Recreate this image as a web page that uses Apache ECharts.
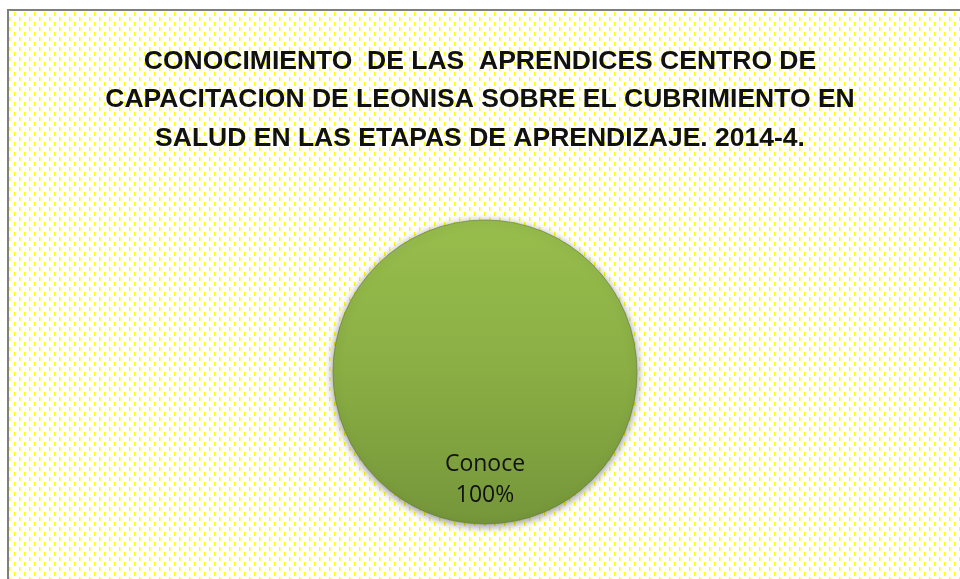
<!DOCTYPE html>
<html>
<head>
<meta charset="utf-8">
<script src="https://cdn.jsdelivr.net/npm/echarts@6/dist/echarts.min.js"></script>
<style>
  html, body { margin: 0; padding: 0; background: #fff; }
  #main { width: 960px; height: 579px; }
</style>
</head>
<body>
<div id="main"></div>
<script>
// datos del grafico
const categorias = ['Conoce'];
const valores = [100];
const titulo = [
  'CONOCIMIENTO  DE LAS  APRENDICES CENTRO DE',
  'CAPACITACION DE LEONISA SOBRE EL CUBRIMIENTO EN',
  'SALUD EN LAS ETAPAS DE APRENDIZAJE. 2014-4.'
];

// patron de fondo: rayitas amarillas escalonadas
function makePattern() {
  const c = document.createElement('canvas');
  c.width = 10;
  c.height = 10;
  const ctx = c.getContext('2d');
  ctx.fillStyle = '#ffffff';
  ctx.fillRect(0, 0, 10, 10);
  ctx.fillStyle = '#ffff00';
  ctx.fillRect(4, 2, 1, 4);
  ctx.fillRect(9, 7, 1, 4);
  ctx.fillRect(9, 0, 1, 1);
  ctx.fillStyle = '#ffff90';
  ctx.fillRect(5, 2, 1, 4);
  ctx.fillRect(0, 7, 1, 4);
  ctx.fillRect(0, 0, 1, 1);
  return c;
}

const chart = echarts.init(document.getElementById('main'), null, { renderer: 'canvas' });

const option = {
  backgroundColor: '#ffffff',
  animation: false,
  graphic: [{
    type: 'rect',
    z: -10,
    shape: { x: 8, y: 10, width: 1000, height: 1000 },
    style: {
      fill: { image: makePattern(), repeat: 'repeat' },
      stroke: '#7f7f7f',
      lineWidth: 2
    }
  }],
  title: {
    text: titulo.join('\n'),
    left: 'center',
    top: 37,
    textStyle: {
      fontFamily: 'Liberation Sans',
      fontWeight: 'bold',
      fontSize: 26.5,
      lineHeight: 38.5,
      color: '#111111'
    }
  },
  series: [{
    type: 'pie',
    center: [485, 372],
    radius: 152,
    startAngle: 90,
    silent: true,
    data: categorias.map((c, i) => ({ name: c, value: valores[i] })),
    itemStyle: {
      color: {
        type: 'linear', x: 0, y: 0, x2: 0, y2: 1,
        colorStops: [
          { offset: 0, color: '#98be4d' },
          { offset: 0.5, color: '#8aae44' },
          { offset: 1, color: '#75963a' }
        ]
      },
      borderWidth: 1,
      borderColor: 'rgba(95,120,45,0.6)',
      shadowBlur: 8,
      shadowColor: 'rgba(0,0,0,0.45)',
      shadowOffsetY: 2
    },
    label: {
      position: 'inside',
      formatter: '{b}\n{d}%',
      fontFamily: 'Open Sans',
      fontSize: 23,
      lineHeight: 31,
      color: '#111111'
    },
    labelLayout: { dy: 29 },
    labelLine: { show: false }
  }]
};

chart.setOption(option);
</script>
</body>
</html>
